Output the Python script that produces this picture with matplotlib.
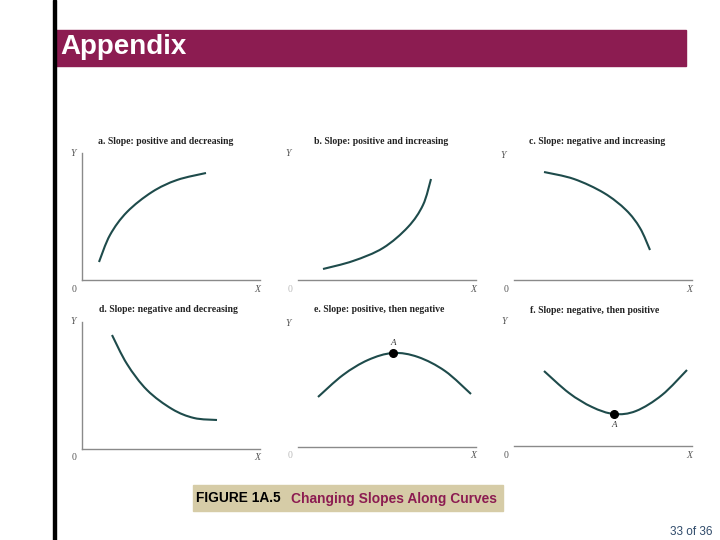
import matplotlib
matplotlib.use("Agg")
import matplotlib.pyplot as plt
from matplotlib.patches import Rectangle, PathPatch
from matplotlib.path import Path

# ---------------- data ----------------
panel_titles = ["a. Slope: positive and decreasing",
                "b. Slope: positive and increasing",
                "c. Slope: negative and increasing",
                "d. Slope: negative and decreasing",
                "e. Slope: positive, then negative",
                "f. Slope: negative, then positive"]

curve_a_x = [17, 28, 45, 70, 95, 124]
curve_a_y = [18, 45, 68, 88, 100, 107]
curve_b_x = [25, 55, 85, 110, 125, 133]
curve_b_y = [11, 19, 32, 53, 75, 101]
curve_c_x = [30, 60, 90, 112, 126, 136]
curve_c_y = [108, 101, 87, 70, 52, 30]
curve_d_x = [30, 45, 65, 90, 112, 135]
curve_d_y = [114, 85, 59, 40, 31, 29]
curve_e_x = [20, 45, 70, 95, 120, 147, 173]
curve_e_y = [50, 72, 87, 94, 90, 76, 53]
curve_f_x = [30, 55, 78, 100, 122, 148, 173]
curve_f_y = [75, 53, 39, 32, 35, 51, 76]

point_e = (95, 94)
point_f = (100, 32)

caption_num = "FIGURE 1A.5"
caption_text = "Changing Slopes Along Curves"
header_text = "Appendix"
page_text = "33 of 36"


def smooth_path(xs, ys):
    """Cubic Bezier path passing through the given points (Catmull-Rom tangents)."""
    pts = list(zip(xs, ys))
    verts = [pts[0]]
    codes = [Path.MOVETO]
    n = len(pts)
    for i in range(n - 1):
        p0 = pts[i - 1] if i > 0 else pts[i]
        p1 = pts[i]
        p2 = pts[i + 1]
        p3 = pts[i + 2] if i + 2 < n else pts[i + 1]
        c1 = (p1[0] + (p2[0] - p0[0]) / 6.0, p1[1] + (p2[1] - p0[1]) / 6.0)
        c2 = (p2[0] - (p3[0] - p1[0]) / 6.0, p2[1] - (p3[1] - p1[1]) / 6.0)
        verts += [c1, c2, p2]
        codes += [Path.CURVE4, Path.CURVE4, Path.CURVE4]
    return Path(verts, codes)


# ---------------- figure ----------------
W_PX, H_PX = 720, 540
fig = plt.figure(figsize=(7.2, 5.4), dpi=100)
fig.patch.set_facecolor("white")

bg = fig.add_axes([0, 0, 1, 1])
bg.set_xlim(0, W_PX)
bg.set_ylim(H_PX, 0)
bg.axis("off")

bg.add_patch(Rectangle((53, 0), 3, H_PX, color="black", zorder=5))
bg.add_patch(Rectangle((56, 30), 630, 36, color="#8C1C51", zorder=2))
bg.text(60, 47, header_text, color="white", fontsize=20, fontweight="bold",
        family="Liberation Sans", va="center", ha="left", zorder=3)
bg.add_patch(Rectangle((193, 485), 310, 26, color="#D6CCA7", zorder=2))
bg.text(196, 498.5, caption_num, color="black", fontsize=9.9, fontweight="bold",
        family="Liberation Sans", va="center", ha="left", zorder=3)
bg.text(291, 498.5, caption_text, color="#8C1C51", fontsize=9.9, fontweight="bold",
        family="Liberation Sans", va="center", ha="left", zorder=3)
bg.text(712, 532, page_text, color="#2F4A6A", fontsize=8.5,
        family="Liberation Sans", va="center", ha="right", zorder=3)

curve_color = "#1E4B4B"
axis_color = "#8A8A8A"
label_color = "#555555"

panels = [
    (82, 280, curve_a_x, curve_a_y, True, (83.5, 138), (-9, 127), label_color, None, None),
    (298, 280, curve_b_x, curve_b_y, False, (83.5, 138), (-10, 127), "#bbbbbb", None, None),
    (514, 280, curve_c_x, curve_c_y, False, (83, 138), (-11, 124), label_color, None, None),
    (82, 449, curve_d_x, curve_d_y, True, (86, 139), (-9, 127), label_color, None, None),
    (298, 447, curve_e_x, curve_e_y, False, (81, 137), (-10, 123), "#bbbbbb", point_e, 10),
    (514, 446, curve_f_x, curve_f_y, False, (81, 136), (-10, 125), label_color, point_f, -11),
]

PW, PH = 178, 127
for i, (ox, oy, cx, cy, show_y, tpos, ypos, zcol, pt, aoff) in enumerate(panels):
    ax = fig.add_axes([ox / W_PX, 1 - oy / H_PX, PW / W_PX, PH / H_PX])
    ax.set_xlim(0, PW)
    ax.set_ylim(0, PH)
    ax.patch.set_alpha(0)
    for s in ["top", "right"]:
        ax.spines[s].set_visible(False)
    ax.spines["left"].set_visible(show_y)
    for s in ["bottom", "left"]:
        ax.spines[s].set_color(axis_color)
        ax.spines[s].set_linewidth(1.0)
    ax.set_xticks([])
    ax.set_yticks([])
    patch = PathPatch(smooth_path(cx, cy), facecolor="none", edgecolor=curve_color,
                      lw=1.5, capstyle="butt", joinstyle="round", transform=ax.transData)
    ax.add_patch(patch)
    if pt is not None:
        ax.plot([pt[0]], [pt[1]], "o", color="black", ms=5.5, zorder=4)
        ax.text(pt[0], pt[1] + aoff, "A", fontsize=6.5, style="italic",
                family="Liberation Serif", color="#333333", ha="center", va="center")
    ax.text(tpos[0], tpos[1], panel_titles[i], fontsize=7.0, fontweight="bold",
            family="Liberation Serif", color="#222222", ha="center", va="center",
            clip_on=False)
    ax.text(ypos[0], ypos[1], "Y", fontsize=7, style="italic", family="Liberation Serif",
            color=label_color, ha="center", va="center", clip_on=False)
    ax.text(PW - 3, -9, "X", fontsize=7, style="italic", family="Liberation Serif",
            color=label_color, ha="center", va="center", clip_on=False)
    ax.text(-8, -9, "0", fontsize=7, family="Liberation Serif",
            color=zcol, ha="center", va="center", clip_on=False)

fig.savefig("out.png", dpi=100, facecolor="white")
